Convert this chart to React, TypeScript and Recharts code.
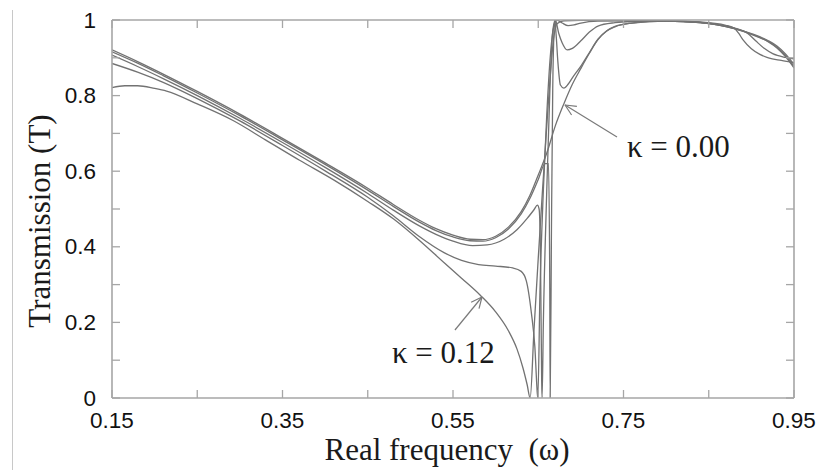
import React from 'react';
import { LineChart, Line, XAxis, YAxis, ReferenceLine, ReferenceDot, Label } from 'recharts';

// ---- axes ----
const xTicks = [0.15, 0.25, 0.35, 0.45, 0.55, 0.65, 0.75, 0.85, 0.95];
const xTickLabels = ['0.15', '0.35', '0.55', '0.75', '0.95'];
const yTicks = [0, 0.1, 0.2, 0.3, 0.4, 0.5, 0.6, 0.7, 0.8, 0.9, 1];
const yTickLabels = ['0', '0.2', '0.4', '0.6', '0.8', '1'];

// ---- series: [real frequency ω, transmission T] ----
const kappa000: [number, number][] = [
  [0.15, 0.921], [0.18, 0.89], [0.21, 0.857], [0.25, 0.811], [0.3, 0.751], [0.35, 0.687],
  [0.4, 0.622], [0.45, 0.555], [0.48, 0.512], [0.51, 0.471], [0.53, 0.448], [0.55, 0.431],
  [0.57, 0.42], [0.585, 0.419], [0.6, 0.428], [0.615, 0.452], [0.63, 0.493], [0.64, 0.535],
  [0.65, 0.59], [0.66, 0.648], [0.67, 0.72], [0.68, 0.778], [0.69, 0.83], [0.7, 0.872],
  [0.71, 0.912], [0.72, 0.948], [0.73, 0.97], [0.74, 0.982], [0.76, 0.992], [0.78, 0.996],
  [0.8, 0.997], [0.82, 0.996], [0.84, 0.993], [0.86, 0.987], [0.88, 0.977], [0.9, 0.963],
  [0.91, 0.954], [0.92, 0.943], [0.93, 0.928], [0.94, 0.906], [0.95, 0.876],
];

const kappa003: [number, number][] = [
  [0.15, 0.916], [0.18, 0.886], [0.21, 0.853], [0.25, 0.807], [0.3, 0.747], [0.35, 0.683],
  [0.4, 0.618], [0.45, 0.55], [0.48, 0.507], [0.51, 0.466], [0.53, 0.443], [0.55, 0.426],
  [0.57, 0.416], [0.585, 0.415], [0.6, 0.424], [0.615, 0.447], [0.63, 0.487], [0.64, 0.527],
  [0.65, 0.578], [0.658, 0.62], [0.662, 0.62], [0.6635, 0.3], [0.664, 0.0], [0.6655, 0.45],
  [0.667, 0.82], [0.6685, 0.97], [0.6695, 1.0], [0.671, 0.96], [0.673, 0.89], [0.676, 0.828],
  [0.68, 0.82], [0.685, 0.83], [0.69, 0.847], [0.7, 0.878], [0.71, 0.914], [0.72, 0.949],
  [0.73, 0.971], [0.74, 0.983], [0.76, 0.992], [0.8, 0.997], [0.84, 0.993], [0.88, 0.977],
  [0.9, 0.962], [0.92, 0.942], [0.93, 0.926], [0.94, 0.903], [0.95, 0.873],
];

const kappa006: [number, number][] = [
  [0.15, 0.907], [0.18, 0.877], [0.21, 0.845], [0.25, 0.8], [0.3, 0.74], [0.35, 0.676],
  [0.4, 0.61], [0.45, 0.541], [0.48, 0.497], [0.51, 0.456], [0.53, 0.433], [0.55, 0.415],
  [0.573, 0.403], [0.59, 0.405], [0.61, 0.42], [0.625, 0.445], [0.637, 0.475], [0.645, 0.498],
  [0.649, 0.51], [0.651, 0.5], [0.6525, 0.4], [0.654, 0.05], [0.6545, 0.0], [0.656, 0.2],
  [0.66, 0.55], [0.664, 0.84], [0.667, 0.97], [0.67, 1.0], [0.674, 0.965], [0.678, 0.94],
  [0.684, 0.921], [0.69, 0.925], [0.7, 0.945], [0.71, 0.968], [0.72, 0.984], [0.74, 0.993],
  [0.76, 0.996], [0.8, 0.997], [0.84, 0.993], [0.88, 0.978], [0.9, 0.964], [0.92, 0.945],
  [0.93, 0.931], [0.94, 0.91], [0.95, 0.882],
];

const kappa009: [number, number][] = [
  [0.15, 0.885], [0.18, 0.862], [0.21, 0.835], [0.25, 0.792], [0.3, 0.733], [0.35, 0.668],
  [0.4, 0.601], [0.45, 0.531], [0.48, 0.482], [0.51, 0.428], [0.54, 0.384], [0.56, 0.364],
  [0.58, 0.353], [0.6, 0.349], [0.62, 0.344], [0.63, 0.335], [0.636, 0.31], [0.642, 0.224],
  [0.646, 0.136], [0.649, 0.01], [0.6495, 0.0], [0.652, 0.28], [0.656, 0.55], [0.66, 0.75],
  [0.664, 0.9], [0.668, 0.98], [0.672, 1.0], [0.678, 0.992], [0.685, 0.985], [0.692, 0.987],
  [0.7, 0.992], [0.72, 0.997], [0.76, 0.998], [0.8, 0.998], [0.84, 0.994], [0.88, 0.979],
  [0.895, 0.966], [0.905, 0.945], [0.915, 0.925], [0.925, 0.911], [0.94, 0.901], [0.95, 0.897],
];

const kappa012: [number, number][] = [
  [0.15, 0.821], [0.165, 0.826], [0.18, 0.826], [0.2, 0.819], [0.214, 0.812], [0.25, 0.778],
  [0.292, 0.734], [0.33, 0.683], [0.37, 0.629], [0.41, 0.577], [0.45, 0.52], [0.48, 0.474],
  [0.51, 0.418], [0.54, 0.357], [0.56, 0.317], [0.582, 0.272], [0.6, 0.228], [0.615, 0.178],
  [0.625, 0.13], [0.632, 0.08], [0.637, 0.035], [0.6405, 0.0], [0.645, 0.18], [0.65, 0.37],
  [0.655, 0.55], [0.66, 0.72], [0.664, 0.85], [0.668, 0.95], [0.672, 0.99], [0.68, 0.998],
  [0.7, 0.999], [0.76, 0.999], [0.8, 0.998], [0.84, 0.995], [0.87, 0.986], [0.88, 0.978],
  [0.885, 0.965], [0.89, 0.948], [0.9, 0.924], [0.91, 0.909], [0.92, 0.9], [0.935, 0.893],
  [0.95, 0.887],
];

const seriesList = [
  { name: 'κ = 0.00', pts: kappa000 },
  { name: 'κ = 0.03', pts: kappa003 },
  { name: 'κ = 0.06', pts: kappa006 },
  { name: 'κ = 0.09', pts: kappa009 },
  { name: 'κ = 0.12', pts: kappa012 },
];

// ---- annotations (data coordinates) ----
const note000 = { text: 'κ = 0.00', w: 0.7541, t: 0.6376 };
const note012 = { text: 'κ = 0.12', w: 0.4784, t: 0.0926 };
const arrow000 = { tail: [0.7424, 0.6905], head: [0.6814, 0.7751], b1: [0.6891, 0.7487], b2: [0.6953, 0.7714] };
const arrow012 = { tail: [0.5523, 0.1799], head: [0.584, 0.2672], b1: [0.5713, 0.2534], b2: [0.5805, 0.2365] };

const toRows = (pts: [number, number][]) => pts.map(([w, t]) => ({ w, t }));

const AXIS = '#a6a6a6';
const CURVE = '#727272';
const ARROW = '#7a7a7a';
const SANS = '"Liberation Sans", Arial, Helvetica, sans-serif';
const SERIF = '"Liberation Serif", "Times New Roman", Times, serif';

const BottomTick = (p: any) => {
  const { x, y, payload } = p;
  const lbl = Number(payload.value).toFixed(2);
  return (
    <g>
      <line x1={x} x2={x} y1={y} y2={y - 8} stroke={AXIS} strokeWidth={1.3} />
      {xTickLabels.includes(lbl) && (
        <text x={x} y={y + 30} textAnchor="middle" fontFamily={SANS} fontSize={22.5} fill="#111">
          {lbl}
        </text>
      )}
    </g>
  );
};

const TopTick = (p: any) => {
  const { x, y } = p;
  return <line x1={x} x2={x} y1={y} y2={y + 8} stroke={AXIS} strokeWidth={1.3} />;
};

const fmtY = (v: number) => (v === 0 ? '0' : v === 1 ? '1' : v.toFixed(1));

const LeftTick = (p: any) => {
  const { x, y, payload } = p;
  const lbl = fmtY(Number(payload.value));
  return (
    <g>
      <line x1={x} x2={x + 8} y1={y} y2={y} stroke={AXIS} strokeWidth={1.3} />
      {yTickLabels.includes(lbl) && (
        <text x={x - 16} y={y} dy="0.34em" textAnchor="end" fontFamily={SANS} fontSize={22.5} fill="#111">
          {lbl}
        </text>
      )}
    </g>
  );
};

const RightTick = (p: any) => {
  const { x, y } = p;
  return <line x1={x} x2={x - 8} y1={y} y2={y} stroke={AXIS} strokeWidth={1.3} />;
};

const XTitle = (p: any) => {
  const vb = p.viewBox;
  return (
    <text
      x={vb.x + vb.width / 2 - 6}
      y={vb.y + 62}
      textAnchor="middle"
      fontFamily={SERIF}
      fontSize={31}
      fill="#1a1a1a"
      style={{ whiteSpace: 'pre' }}
    >
      {'Real frequency  (ω)'}
    </text>
  );
};

const YTitle = (p: any) => {
  const vb = p.viewBox;
  const cx = vb.x + 50;
  const cy = vb.y + vb.height / 2 + 12;
  return (
    <text
      x={cx}
      y={cy}
      transform={`rotate(-90, ${cx}, ${cy})`}
      textAnchor="middle"
      fontFamily={SERIF}
      fontSize={31}
      fill="#1a1a1a"
    >
      Transmission (T)
    </text>
  );
};

const NoteText = (text: string) => (p: any) => (
  <text x={p.cx} y={p.cy} fontFamily={SERIF} fontSize={31} fill="#1a1a1a" style={{ whiteSpace: 'pre' }}>
    {text}
  </text>
);

const arrowSegs = (a: { tail: number[]; head: number[]; b1: number[]; b2: number[] }) => [
  [a.tail, a.head],
  [a.head, a.b1],
  [a.head, a.b2],
];

export default function App() {
  return (
    <div style={{ position: 'absolute', left: 0, top: 0, width: 822, height: 470, background: '#fff' }}>
      <div style={{ position: 'absolute', left: 12, top: 10, width: 1, height: 460, background: '#c8c8c8' }} />
      <LineChart width={822} height={470} margin={{ top: 0, right: 0, bottom: 0, left: 0 }}>
        <XAxis
          xAxisId="b"
          type="number"
          dataKey="w"
          domain={[0.15, 0.95]}
          ticks={xTicks}
          interval={0}
          orientation="bottom"
          height={72}
          allowDataOverflow
          tickLine={false}
          tickSize={0}
          tickMargin={0}
          tick={BottomTick}
          axisLine={{ stroke: AXIS, strokeWidth: 1.6 }}
          label={<Label content={XTitle} />}
        />
        <XAxis
          xAxisId="t"
          type="number"
          dataKey="w"
          domain={[0.15, 0.95]}
          ticks={xTicks}
          interval={0}
          orientation="top"
          height={20}
          allowDataOverflow
          tickLine={false}
          tickSize={0}
          tickMargin={0}
          tick={TopTick}
          axisLine={{ stroke: AXIS, strokeWidth: 1.6 }}
        />
        <YAxis
          yAxisId="l"
          type="number"
          domain={[0, 1]}
          ticks={yTicks}
          interval={0}
          orientation="left"
          width={112}
          allowDataOverflow
          tickLine={false}
          tickSize={0}
          tickMargin={0}
          tick={LeftTick}
          axisLine={{ stroke: AXIS, strokeWidth: 1.6 }}
          label={<Label content={YTitle} />}
        />
        <YAxis
          yAxisId="r"
          type="number"
          domain={[0, 1]}
          ticks={yTicks}
          interval={0}
          orientation="right"
          width={28}
          allowDataOverflow
          tickLine={false}
          tickSize={0}
          tickMargin={0}
          tick={RightTick}
          axisLine={{ stroke: AXIS, strokeWidth: 1.6 }}
        />
        {seriesList.map((s) => (
          <Line
            key={s.name}
            name={s.name}
            xAxisId="b"
            yAxisId="l"
            data={toRows(s.pts)}
            dataKey="t"
            type="monotone"
            stroke={CURVE}
            strokeWidth={1.3}
            dot={false}
            activeDot={false}
            isAnimationActive={false}
          />
        ))}
        {[arrow000, arrow012].flatMap((a, i) =>
          arrowSegs(a).map((seg, j) => (
            <ReferenceLine
              key={`ar-${i}-${j}`}
              xAxisId="b"
              yAxisId="l"
              segment={[
                { x: seg[0][0], y: seg[0][1] },
                { x: seg[1][0], y: seg[1][1] },
              ]}
              stroke={ARROW}
              strokeWidth={1.2}
            />
          ))
        )}
        {[note000, note012].map((n) => (
          <ReferenceDot
            key={n.text}
            xAxisId="b"
            yAxisId="l"
            x={n.w}
            y={n.t}
            r={0}
            shape={NoteText(n.text)}
          />
        ))}
      </LineChart>
    </div>
  );
}
